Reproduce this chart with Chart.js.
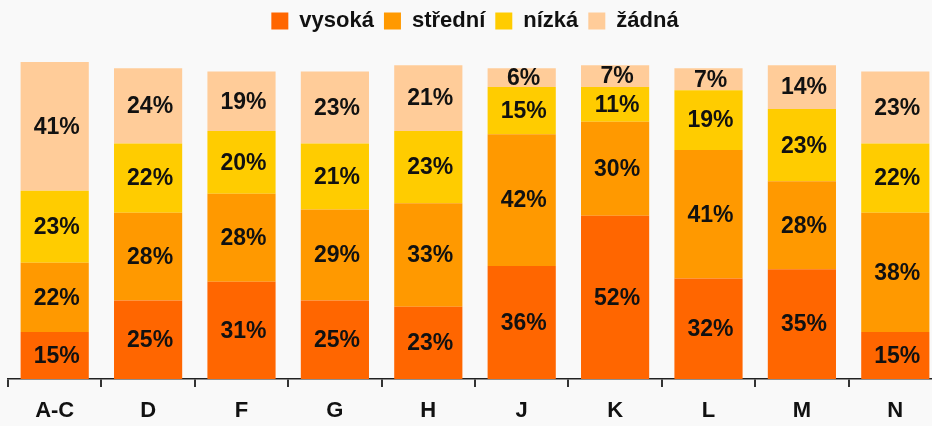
<!DOCTYPE html>
<html>
<head>
<meta charset="utf-8">
<script src="https://cdn.jsdelivr.net/npm/chart.js@4"></script>
<style>
  html, body { margin: 0; padding: 0; background: #f9f9f9; overflow: hidden; }
  #wrap { width: 942px; height: 426px; }
</style>
</head>
<body>
<div id="wrap"><canvas id="chart"></canvas></div>
<script>
"use strict";

// ── Data ────────────────────────────────────────────────────────────────────
const CATEGORIES = ["A-C", "D", "F", "G", "H", "J", "K", "L", "M", "N"];
const VYSOKA  = [15, 25, 31, 25, 23, 36, 52, 32, 35, 15];
const STREDNI = [22, 28, 28, 29, 33, 42, 30, 41, 28, 38];
const NIZKA   = [23, 22, 20, 21, 23, 15, 11, 19, 23, 22];
const ZADNA   = [41, 24, 19, 23, 21, 6, 7, 7, 14, 23];

const SERIES = [
  { label: "vysoká",  data: VYSOKA,  color: "#FF6600" },
  { label: "střední", data: STREDNI, color: "#FF9900" },
  { label: "nízká",   data: NIZKA,   color: "#FFCC00" },
  { label: "žádná",   data: ZADNA,   color: "#FFCC99" },
];

const FONT = "'Liberation Sans', Arial, sans-serif";

// ── Inline value labels (centre of each segment) ────────────────────────────
const valueLabels = {
  id: "valueLabels",
  afterDatasetsDraw(chart) {
    const ctx = chart.ctx;
    ctx.save();
    ctx.font = `bold 23px ${FONT}`;
    ctx.fillStyle = "#111";
    ctx.textAlign = "center";
    ctx.textBaseline = "middle";
    chart.data.datasets.forEach((ds, i) => {
      chart.getDatasetMeta(i).data.forEach((bar, j) => {
        const y = (bar.y + bar.base) / 2;
        ctx.fillText(ds.data[j] + "%", bar.x + 2, y + 1);
      });
    });
    ctx.restore();
  },
};

// ── Legend height tweak ─────────────────────────────────────────────────────
const legendSpace = {
  id: "legendSpace",
  beforeInit(chart) {
    const fit = chart.legend.fit;
    chart.legend.fit = function () {
      fit.bind(chart.legend)();
      this.height = 62;
    };
  },
};

// ── Chart ───────────────────────────────────────────────────────────────────
new Chart(document.getElementById("chart"), {
  type: "bar",
  data: {
    labels: CATEGORIES,
    datasets: SERIES.map(s => ({
      label: s.label,
      data: s.data,
      backgroundColor: s.color,
      borderWidth: 0,
      barPercentage: 0.73,
      categoryPercentage: 1,
    })),
  },
  options: {
    animation: false,
    responsive: true,
    maintainAspectRatio: false,
    layout: { padding: { left: 8, right: 0, top: 0, bottom: 0 } },
    scales: {
      x: {
        stacked: true,
        afterFit: scale => { scale.height = 47; },
        grid: {
          offset: true,
          drawOnChartArea: false,
          drawTicks: true,
          tickLength: 8,
          color: "#333",
          lineWidth: 2,
        },
        border: { display: true, color: "#222", width: 1.5 },
        ticks: {
          color: "#111",
          padding: 11,
          font: { family: FONT, size: 22, weight: "bold" },
        },
      },
      y: {
        stacked: true,
        display: false,
        min: 0,
        max: 101,
      },
    },
    plugins: {
      legend: {
        position: "top",
        labels: {
          color: "#111",
          boxWidth: 17,
          boxHeight: 17,
          padding: 10,
          font: { family: FONT, size: 22, weight: "bold" },
        },
      },
      tooltip: { enabled: false },
    },
  },
  plugins: [valueLabels, legendSpace],
});
</script>
</body>
</html>
